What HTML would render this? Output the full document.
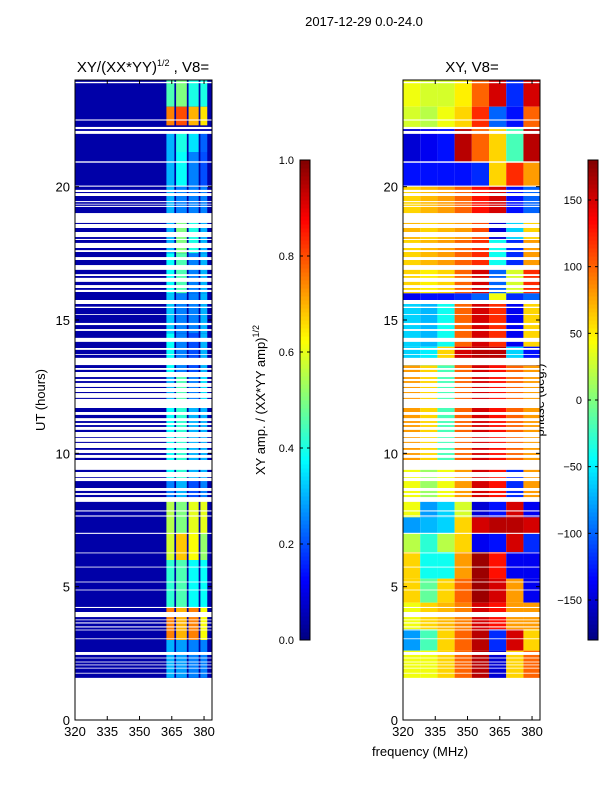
<!DOCTYPE html>
<html><head><meta charset="utf-8"><style>
body{margin:0;background:#fff;width:600px;height:800px;overflow:hidden}
svg text{font-family:"Liberation Sans",sans-serif;fill:#000}
</style></head><body>
<svg id="fig" width="600" height="800" xmlns="http://www.w3.org/2000/svg">
<text x="364" y="26" font-size="13" text-anchor="middle">2017-12-29 0.0-24.0</text>
<text x="143" y="72" font-size="15" text-anchor="middle">XY/(XX*YY)<tspan font-size="9" dy="-6">1/2</tspan><tspan dy="6"> , V8=</tspan></text>
<text x="472" y="72" font-size="15" text-anchor="middle">XY, V8=</text>
<text transform="translate(45,400) rotate(-90)" font-size="13" text-anchor="middle">UT (hours)</text>
<text x="420" y="756" font-size="13" text-anchor="middle">frequency (MHz)</text>
<text transform="translate(265,400) rotate(-90)" font-size="13" text-anchor="middle">XY amp. / (XX*YY amp)<tspan font-size="9" dy="-6">1/2</tspan></text>
<text transform="translate(544,400) rotate(-90)" font-size="13" text-anchor="middle">phase (deg.)</text>
<g id="amp"></g>
<g id="phase"></g>
<g id="axes"></g>
</svg>
<script>
// data
const dataRange = [1.58, 24];
const gaps = [[23.88,23.93],[22.48,22.52],[22.16,22.24],[21.98,22.09],[20.9,20.95],[20.0,20.04],[19.8,19.88],[19.65,19.76],[19.42,19.46],[19.33,19.36],[19.24,19.28],[18.64,19.01],[18.45,18.6],[18.11,18.3],[18.0,18.04],[17.7,17.89],[17.55,17.62],[17.25,17.36],[16.88,17.06],[16.65,16.72],[16.43,16.58],[16.2,16.31],[16.05,16.13],[15.6,15.75],[15.45,15.5],[15.19,15.22],[14.81,14.89],[14.59,14.66],[14.18,14.33],[13.88,13.95],[13.69,13.72],[13.31,13.58],[13.13,13.2],[12.86,13.05],[12.71,12.79],[12.49,12.64],[12.3,12.45],[12.08,12.26],[11.7,12.04],[11.44,11.55],[11.21,11.32],[11.06,11.14],[10.88,10.99],[10.61,10.8],[10.43,10.58],[10.2,10.39],[10.01,10.13],[9.83,9.94],[9.38,9.75],[9.11,9.3],[8.96,9.08],[8.59,8.7],[8.44,8.51],[8.18,8.36],[7.82,7.86],[7.63,7.67],[6.98,7.02],[6.25,6.28],[5.72,5.75],[5.16,5.19],[4.86,4.89],[4.2,4.24],[3.86,4.05],[3.74,3.77],[3.62,3.66],[3.47,3.51],[3.36,3.39],[3.03,3.06],[2.44,2.55],[2.31,2.34],[2.16,2.19],[2.05,2.08],[1.93,1.96],[1.74,1.77]];
const ampBackground = 0.04;
const ampChannels = [[362.5,366.2],[367,372],[372.8,377.5],[378.3,381.5]];
const ampRows = [
[23.0,24,0.45,0.5,0.4,0.4],[22.3,23.0,0.75,0.8,0.7,0.65],[21.3,22.0,0.3,0.4,0.35,0.22],
[20.0,21.3,0.3,0.38,0.25,0.2],[19.0,20.0,0.3,0.25,0.25,0.25],[17.5,18.7,0.3,0.5,0.4,0.3],
[16.0,17.5,0.38,0.45,0.25,0.3],[14.5,16.0,0.32,0.25,0.25,0.3],[13.0,14.5,0.38,0.25,0.2,0.3],
[11.7,13.0,0.3,0.45,0.25,0.35],[9.0,11.7,0.38,0.42,0.3,0.3],[8.2,9.0,0.25,0.3,0.2,0.25],
[7.0,8.2,0.55,0.5,0.6,0.6],[6.0,7.0,0.58,0.68,0.62,0.52],[4.2,6.0,0.42,0.45,0.38,0.38],
[3.0,4.2,0.75,0.7,0.75,0.62],[1.58,3.0,0.3,0.28,0.25,0.25]];
const phaseCols = [320,328,336,344,352,360,368,376,384];
const phaseRows = [
[23.0,24,40,30,30,50,100,150,-120,150],[22.2,23.0,30,20,40,60,120,-100,-130,100],
[20.9,22.2,-150,-140,-130,160,100,60,-20,160],[20.0,20.9,-130,-130,-130,-130,-120,60,120,80],
[18.7,20.0,60,70,80,100,130,150,-130,-100],[18.0,18.7,70,60,70,80,110,-150,-60,60],
[16.9,18.0,60,70,80,100,120,-40,-120,80],[16.0,16.9,60,50,60,100,150,-100,30,120],
[15.6,16.0,-140,-130,-130,-120,-100,40,-120,-100],[14.0,15.6,-60,-70,-40,100,150,120,-140,60],
[13.3,14.0,-60,-50,60,150,160,160,-60,-130],[9.4,13.3,80,60,-20,100,150,130,100,80],
[8.2,9.4,40,10,40,80,150,130,-120,80],[7.6,8.2,40,-80,-60,30,-150,-130,150,-140],
[7.0,7.6,-80,-70,-60,60,150,160,160,150],[6.3,7.0,20,-30,20,60,-140,-130,150,-120],
[5.3,6.3,60,-40,-40,80,170,130,-140,-140],[4.4,5.3,60,-10,60,100,170,150,80,-140],
[3.4,4.4,40,60,70,90,150,130,80,80],[2.6,3.4,-80,-20,60,100,160,-120,150,60],
[1.58,2.6,40,40,60,100,160,-150,60,100]];
const yTicks = [0,5,10,15,20];
const xTicks = [320,335,350,365,380];
const ampCbTicks = [0.0,0.2,0.4,0.6,0.8,1.0];
const phaseCbTicks = [-150,-100,-50,0,50,100,150];

const NS="http://www.w3.org/2000/svg";
function jet(v){v=Math.max(0,Math.min(1,v));
 const f=x=>Math.max(0,Math.min(1,x));
 const r=f(1.5-Math.abs(4*v-3)),g=f(1.5-Math.abs(4*v-2)),b=f(1.5-Math.abs(4*v-1));
 return `rgb(${Math.round(r*255)},${Math.round(g*255)},${Math.round(b*255)})`;}
const yS=h=>720-(h/24)*640;
const xA=f=>75+(f-320)*(137/63.7);
const xP=f=>403+(f-320)*(137/63.7);
const fMax=383.7;
function mk(tag,attrs,parent){const e=document.createElementNS(NS,tag);for(const k in attrs)e.setAttribute(k,attrs[k]);parent.appendChild(e);return e;}
const amp=document.getElementById('amp'),ph=document.getElementById('phase'),ax=document.getElementById('axes');

// amplitude
let r=mk('rect',{x:xA(320),y:yS(dataRange[1]),width:xA(fMax)-xA(320),height:yS(dataRange[0])-yS(dataRange[1]),fill:jet(ampBackground)},amp);


ampRows.forEach(row=>{
 ampChannels.forEach((c,i)=>{
  const e=mk('rect',{x:xA(c[0]),y:yS(row[1]),width:xA(c[1])-xA(c[0]),height:yS(row[0])-yS(row[1]),fill:jet(row[2+i])},amp);
  
  
 });
});
// phase
phaseRows.forEach(row=>{
 for(let i=0;i<phaseCols.length-1;i++){
  const x0=xP(phaseCols[i]),x1=xP(Math.min(phaseCols[i+1],fMax));
  const e=mk('rect',{x:x0,y:yS(row[1]),width:x1-x0,height:yS(row[0])-yS(row[1]),fill:jet((row[2+i]+180)/360)},ph);
  
  
 }
});
// gaps
gaps.forEach(g=>{
 [[xA,amp],[xP,ph]].forEach(([xs,par])=>{
  const e=mk('rect',{x:xs(320),y:yS(g[1]),width:xs(fMax)-xs(320),height:yS(g[0])-yS(g[1]),fill:'#fff'},par);
  
  
 });
});
// axes frames & ticks
[[xA,75],[xP,403]].forEach(([xs,x0],pi)=>{
 const fr=mk('rect',{x:x0,y:80,width:137,height:640,fill:'none',stroke:'#000','stroke-width':1},ax);
 
 
 yTicks.forEach(t=>{
  mk('line',{x1:x0,x2:x0+4,y1:yS(t),y2:yS(t),stroke:'#000'},ax);
  mk('line',{x1:x0+137,x2:x0+133,y1:yS(t),y2:yS(t),stroke:'#000'},ax);
  const l=mk('text',{x:x0-5,y:yS(t)+5,'font-size':13,'text-anchor':'end'},ax);l.textContent=t;
  
  
 });
 xTicks.forEach(t=>{
  mk('line',{x1:xs(t),x2:xs(t),y1:720,y2:716,stroke:'#000'},ax);
  mk('line',{x1:xs(t),x2:xs(t),y1:80,y2:84,stroke:'#000'},ax);
  const l=mk('text',{x:xs(t),y:736,'font-size':13,'text-anchor':'middle'},ax);l.textContent=t;
  
  
 });
});
// colorbars
function colorbar(x0,ticks,lo,hi,name,fmt){
 const g=mk('g',{},ax);
 
 
 for(let i=0;i<120;i++){mk('rect',{x:x0,y:640-(i+1)*4,width:10,height:4.5,fill:jet((i+0.5)/120)},g);}
 mk('rect',{x:x0,y:160,width:10,height:480,fill:'none',stroke:'#000'},g);
 ticks.forEach(t=>{const y=640-(t-lo)/(hi-lo)*480;
  mk('line',{x1:x0,x2:x0+3,y1:y,y2:y,stroke:'#000'},g);
  mk('line',{x1:x0+10,x2:x0+7,y1:y,y2:y,stroke:'#000'},g);
  const l=mk('text',{x:x0-6,y:y+4,'font-size':11,'text-anchor':'end'},g);l.textContent=fmt(t);
  
  
 });
}
colorbar(300,ampCbTicks,0,1,'amp-colorbar',t=>t.toFixed(1));
colorbar(588,phaseCbTicks,-180,180,'phase-colorbar',t=>t<0?'\u2212'+(-t):''+t);
</script>
</body></html>
